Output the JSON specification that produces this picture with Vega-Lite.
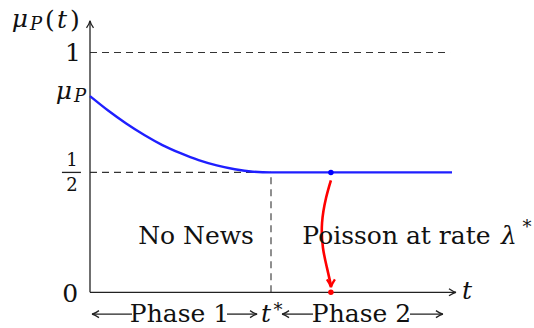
{
  "$schema": "https://vega.github.io/schema/vega-lite/v6.json",
  "width": 534,
  "height": 328,
  "autosize": {"type": "fit", "contains": "padding"},
  "padding": 0,
  "background": "white",
  "config": {"view": {"stroke": null}},
  "datasets": {
    "solid": [
      {"x": 0, "y": 0, "x2": 0, "y2": 1.132},
      {"x": 0, "y": 0, "x2": 2.022, "y2": 0},
      {"x": 0.232, "y": -0.0909, "x2": 0.011, "y2": -0.0909},
      {"x": 0.757, "y": -0.0909, "x2": 0.923, "y2": -0.0909},
      {"x": 1.232, "y": -0.0909, "x2": 1.061, "y2": -0.0909},
      {"x": 1.768, "y": -0.0909, "x2": 1.95, "y2": -0.0909},
      {"x": -0.155, "y": 0.5, "x2": -0.05, "y2": 0.5}
    ],
    "dashed": [
      {"x": 0, "y": 1, "x2": 1.989, "y2": 1},
      {"x": 0, "y": 0.5, "x2": 1, "y2": 0.5},
      {"x": 1, "y": 0, "x2": 1, "y2": 0.5}
    ],
    "belief": [
      {"x": 0, "y": 0.818},
      {"x": 0.1, "y": 0.758},
      {"x": 0.2, "y": 0.704},
      {"x": 0.3, "y": 0.656},
      {"x": 0.4, "y": 0.614},
      {"x": 0.5, "y": 0.58},
      {"x": 0.6, "y": 0.551},
      {"x": 0.7, "y": 0.529},
      {"x": 0.8, "y": 0.513},
      {"x": 0.9, "y": 0.503},
      {"x": 1.0, "y": 0.5},
      {"x": 2.0, "y": 0.5}
    ],
    "jump": [
      {"i": 0, "x": 1.331, "y": 0.467},
      {"i": 1, "x": 1.304, "y": 0.393},
      {"i": 2, "x": 1.282, "y": 0.289},
      {"i": 3, "x": 1.287, "y": 0.186},
      {"i": 4, "x": 1.309, "y": 0.103},
      {"i": 5, "x": 1.331, "y": 0.03}
    ],
    "headsRight": [
      {"x": 2.022, "y": 0},
      {"x": 0.923, "y": -0.0909},
      {"x": 1.95, "y": -0.0909}
    ],
    "headsLeft": [
      {"x": 0.011, "y": -0.0909},
      {"x": 1.061, "y": -0.0909}
    ],
    "headsUp": [{"x": 0, "y": 1.132}],
    "headsRed": [{"x": 1.331, "y": 0.0207}],
    "dotBlue": [{"x": 1.331, "y": 0.5}],
    "dotRed": [{"x": 1.331, "y": 0}],
    "textUp": [
      {"x": -0.094, "y": 0.963, "label": "1"},
      {"x": -0.11, "y": -0.0413, "label": "0"},
      {"x": 0.586, "y": 0.2025, "label": "No News"},
      {"x": 1.693, "y": 0.2025, "label": "Poisson at rate"},
      {"x": 0.4945, "y": -0.124, "label": "Phase 1"},
      {"x": 1.5, "y": -0.124, "label": "Phase 2"},
      {"x": -0.221, "y": 1.103, "label": "("},
      {"x": -0.083, "y": 1.103, "label": ")"}
    ],
    "textIt": [
      {"x": -0.387, "y": 1.107, "label": "μ"},
      {"x": -0.155, "y": 1.103, "label": "t"},
      {"x": -0.144, "y": 0.806, "label": "μ"},
      {"x": 2.315, "y": 0.2025, "label": "λ"},
      {"x": 2.083, "y": -0.0289, "label": "t"},
      {"x": 0.972, "y": -0.124, "label": "t"}
    ],
    "textSubIt": [
      {"x": -0.298, "y": 1.095, "label": "P"},
      {"x": -0.055, "y": 0.793, "label": "P"}
    ],
    "textSmall": [
      {"x": 2.414, "y": 0.246, "label": "*"},
      {"x": 1.039, "y": -0.097, "label": "*"},
      {"x": -0.099, "y": 0.525, "label": "1"},
      {"x": -0.099, "y": 0.4215, "label": "2"}
    ]
  },
  "encoding": {
    "x": {"field": "x", "type": "quantitative", "axis": null, "scale": {"domain": [-0.49724, 2.45304], "nice": false, "zero": false}},
    "y": {"field": "y", "type": "quantitative", "axis": null, "scale": {"domain": [-0.13636, 1.21901], "nice": false, "zero": false}}
  },
  "layer": [
    {
      "data": {"name": "dashed"},
      "mark": {"type": "rule", "color": "#333333", "strokeWidth": 1.1, "strokeDash": [7, 5]},
      "encoding": {"x2": {"field": "x2"}, "y2": {"field": "y2"}}
    },
    {
      "data": {"name": "solid"},
      "mark": {"type": "rule", "color": "#222222", "strokeWidth": 1.3},
      "encoding": {"x2": {"field": "x2"}, "y2": {"field": "y2"}}
    },
    {
      "data": {"name": "belief"},
      "mark": {"type": "line", "color": "#1f1fff", "strokeWidth": 2.4, "interpolate": "monotone"},
      "encoding": {}
    },
    {
      "data": {"name": "jump"},
      "mark": {"type": "line", "color": "#ff0000", "strokeWidth": 2.6, "interpolate": "natural"},
      "encoding": {"order": {"field": "i", "type": "quantitative"}}
    },
    {
      "data": {"name": "headsRight"},
      "mark": {"type": "point", "filled": false, "color": "#222222", "strokeWidth": 1.3, "opacity": 1, "size": 49, "shape": "M -2 -1 C -1.3 -0.5 -0.5 -0.1 0 0 C -0.5 0.1 -1.3 0.5 -2 1"}
    },
    {
      "data": {"name": "headsLeft"},
      "mark": {"type": "point", "filled": false, "color": "#222222", "strokeWidth": 1.3, "opacity": 1, "size": 49, "shape": "M 2 -1 C 1.3 -0.5 0.5 -0.1 0 0 C 0.5 0.1 1.3 0.5 2 1"}
    },
    {
      "data": {"name": "headsUp"},
      "mark": {"type": "point", "filled": false, "color": "#222222", "strokeWidth": 1.3, "opacity": 1, "size": 49, "shape": "M -1 2 C -0.5 1.3 -0.1 0.5 0 0 C 0.1 0.5 0.5 1.3 1 2"}
    },
    {
      "data": {"name": "headsRed"},
      "mark": {"type": "point", "filled": false, "color": "#ff0000", "strokeWidth": 2.4, "opacity": 1, "size": 64, "shape": "M -1 -2 C -0.5 -1.3 -0.1 -0.5 0 0 C 0.1 -0.5 0.5 -1.3 1 -2"}
    },
    {
      "data": {"name": "dotBlue"},
      "mark": {"type": "circle", "color": "#0000ff", "opacity": 1, "size": 30}
    },
    {
      "data": {"name": "dotRed"},
      "mark": {"type": "circle", "color": "#ff0000", "opacity": 1, "size": 30}
    },
    {
      "data": {"name": "textUp"},
      "mark": {"type": "text", "font": "DejaVu Serif", "fontSize": 25, "color": "#111111", "align": "center", "baseline": "alphabetic"},
      "encoding": {"text": {"field": "label"}}
    },
    {
      "data": {"name": "textIt"},
      "mark": {"type": "text", "font": "DejaVu Serif", "fontStyle": "italic", "fontSize": 25, "color": "#111111", "align": "center", "baseline": "alphabetic"},
      "encoding": {"text": {"field": "label"}}
    },
    {
      "data": {"name": "textSubIt"},
      "mark": {"type": "text", "font": "DejaVu Serif", "fontStyle": "italic", "fontSize": 18, "color": "#111111", "align": "center", "baseline": "alphabetic"},
      "encoding": {"text": {"field": "label"}}
    },
    {
      "data": {"name": "textSmall"},
      "mark": {"type": "text", "font": "DejaVu Serif", "fontSize": 18, "color": "#111111", "align": "center", "baseline": "alphabetic"},
      "encoding": {"text": {"field": "label"}}
    }
  ]
}
